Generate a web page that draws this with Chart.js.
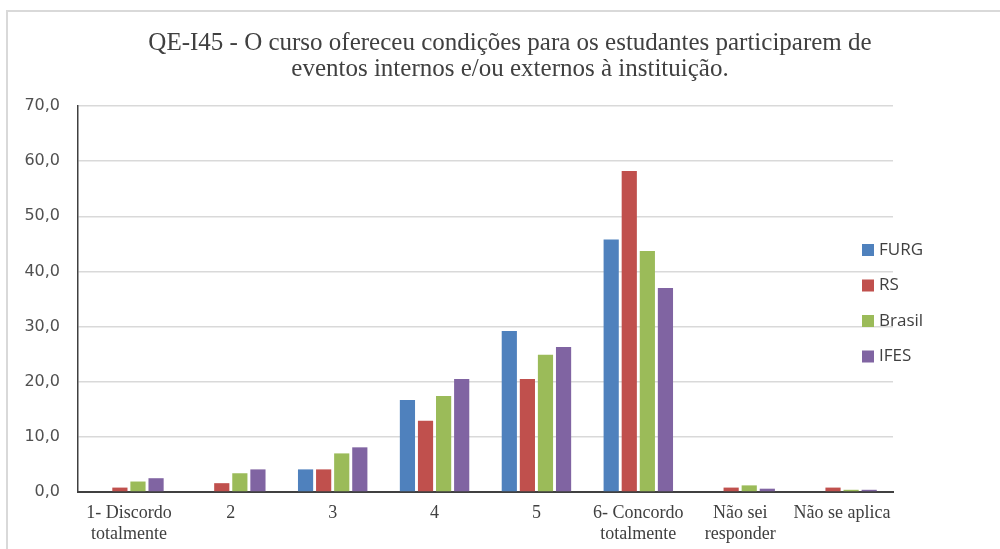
<!DOCTYPE html>
<html>
<head>
<meta charset="utf-8">
<script src="https://cdn.jsdelivr.net/npm/chart.js@4/dist/chart.umd.min.js"></script>
<style>
  body { margin: 0; background: #fff; }
  #wrap { width: 1000px; height: 549px; position: relative; }
</style>
</head>
<body>
<div id="wrap"><canvas id="qeChart" width="1000" height="549"></canvas></div>
<script>
// categorias e valores (%)
const categories = [['1- Discordo', 'totalmente'], '2', '3', '4', '5', ['6- Concordo', 'totalmente'], ['Não sei', 'responder'], 'Não se aplica'];
const furg   = [0, 0, 4.1, 16.7, 29.2, 45.8, 0, 0];
const rs     = [0.8, 1.6, 4.1, 12.9, 20.5, 58.2, 0.8, 0.8];
const brasil = [1.9, 3.4, 7.0, 17.4, 24.9, 43.7, 1.2, 0.4];
const ifes   = [2.5, 4.1, 8.1, 20.5, 26.3, 37.0, 0.6, 0.4];
const seriesNames = ['FURG', 'RS', 'Brasil', 'IFES'];
const yTicks = [0, 10, 20, 30, 40, 50, 60, 70];
const titleLines = ['QE-I45 - O curso ofereceu condições para os estudantes participarem de', 'eventos internos e/ou externos à instituição.'];

const colors = ['#4F81BD', '#C0504D', '#9BBB59', '#8064A2'];

// moldura cinza do gráfico
const framePlugin = {
  id: 'frame',
  beforeDraw(chart) {
    const ctx = chart.ctx
    ctx.save()
    ctx.strokeStyle = '#d9d9d9'
    ctx.lineWidth = 2
    ctx.beginPath()
    ctx.moveTo(7, 549)
    ctx.lineTo(7, 11)
    ctx.lineTo(1000, 11)
    ctx.stroke()
    ctx.restore()
  }
}

// titulo centrado na figura toda (nao so na area do grafico)
const titlePlugin = {
  id: 'bigTitle',
  afterDraw(chart) {
    const ctx = chart.ctx
    ctx.save()
    ctx.font = '25px "Liberation Serif"'
    ctx.fillStyle = '#404040'
    ctx.textAlign = 'center'
    ctx.textBaseline = 'middle'
    titleLines.forEach((line, i) => ctx.fillText(line, 510, 43 + i * 26))
    ctx.restore()
  }
}

// legenda desenhada à direita, sobre a área do gráfico
const legendPlugin = {
  id: 'sideLegend',
  afterDraw(chart) {
    const ctx = chart.ctx
    ctx.save()
    ctx.font = '17px "Open Sans"'
    ctx.textBaseline = 'middle'
    chart.data.datasets.forEach((ds, i) => {
      const y = 250 + i * 35.5
      ctx.fillStyle = ds.backgroundColor
      ctx.fillRect(862, y - 6, 12, 12)
      ctx.fillStyle = '#404040'
      ctx.fillText(ds.label, 879, y)
    })
    ctx.restore()
  }
}

const datasets = [furg, rs, brasil, ifes].map((data, i) => ({
  label: seriesNames[i],
  data: data,
  backgroundColor: colors[i],
  borderWidth: 0,
  categoryPercentage: 0.71,
  barPercentage: 0.84
}))

new Chart(document.getElementById('qeChart'), {
  type: 'bar',
  data: { labels: categories, datasets: datasets },
  options: {
    responsive: false,
    animation: false,
    layout: { padding: { top: 106, right: 107, left: 0, bottom: 0 } },
    plugins: {
      legend: { display: false },
      tooltip: { enabled: false },
      title: { display: false }
    },
    scales: {
      x: {
        grid: { display: false },
        border: { color: '#404040', width: 2 },
        ticks: {
          color: '#404040',
          font: { family: '"Liberation Serif"', size: 18, lineHeight: 1.15 },
          autoSkip: false,
          maxRotation: 0,
          padding: 3
        },
        afterFit(scale) { scale.height = 57 }
      },
      y: {
        min: 0,
        max: 70,
        afterBuildTicks(scale) { scale.ticks = yTicks.map(v => ({ value: v })) },
        grid: { color: '#d9d9d9', lineWidth: 1.5, drawTicks: false },
        border: { color: '#404040', width: 1.5 },
        ticks: {
          color: '#505050',
          font: { family: '"DejaVu Sans"', size: 16 },
          padding: 18,
          callback: v => v.toFixed(1).replace('.', ',')
        },
        afterFit(scale) { scale.width = 78 }
      }
    }
  },
  plugins: [framePlugin, titlePlugin, legendPlugin]
})
</script>
</body>
</html>
